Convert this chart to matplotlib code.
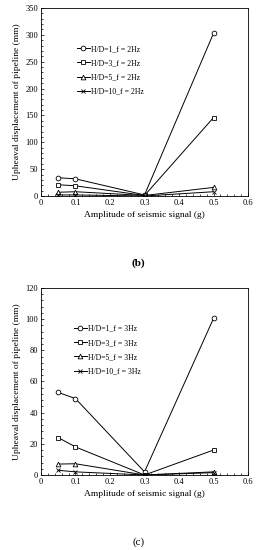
import matplotlib
matplotlib.use("Agg")
import matplotlib.pyplot as plt
from matplotlib.ticker import AutoMinorLocator, MultipleLocator

plt.rcParams['font.family'] = ['Liberation Serif', 'DejaVu Serif']

amplitude = [0.05, 0.1, 0.3, 0.5]

labels_2hz = ["H/D=1_f = 2Hz", "H/D=3_f = 2Hz", "H/D=5_f = 2Hz", "H/D=10_f = 2Hz"]
hd1_2hz = [34, 32, 2, 303]
hd3_2hz = [21, 19, 1, 146]
hd5_2hz = [7, 8, 1, 16]
hd10_2hz = [2, 2, 0, 8]

labels_3hz = ["H/D=1_f = 3Hz", "H/D=3_f = 3Hz", "H/D=5_f = 3Hz", "H/D=10_f = 3Hz"]
hd1_3hz = [53, 49, 2, 100.5]
hd3_3hz = [24, 18, 0, 16]
hd5_3hz = [7, 7.2, 0, 2]
hd10_3hz = [3, 2, 0, 1.5]

markers = ['o', 's', '^', 'x']

fig = plt.figure(figsize=(2.56, 5.5), dpi=100)

def draw(ax, series, labels, ymax, ystep, legend_anchor):
    for vals, lab, m in zip(series, labels, markers):
        ax.plot(amplitude, vals, color='black', lw=0.7, marker=m, ms=3.4,
                mfc='white' if m != 'x' else 'black', mec='black', mew=0.6, label=lab)
    ax.set_xlim(0, 0.6)
    ax.set_ylim(0, ymax)
    ax.xaxis.set_major_locator(MultipleLocator(0.1))
    ax.yaxis.set_major_locator(MultipleLocator(ystep))
    ax.xaxis.set_minor_locator(AutoMinorLocator(5))
    ax.yaxis.set_minor_locator(AutoMinorLocator(5))
    ax.tick_params(which='both', direction='in', labelsize=6, width=0.5, pad=2)
    ax.tick_params(which='major', length=2.5)
    ax.tick_params(which='minor', length=1.3)
    ax.set_xticks([0, 0.1, 0.2, 0.3, 0.4, 0.5, 0.6])
    ax.set_xticklabels(['0', '0.1', '0.2', '0.3', '0.4', '0.5', '0.6'])
    for s in ax.spines.values():
        s.set_linewidth(0.6)
    ax.set_xlabel("Amplitude of seismic signal (g)", fontsize=6.8, labelpad=3)
    ax.set_ylabel("Upheaval displacement of pipeline (mm)", fontsize=6.8, labelpad=3)
    ax.legend(loc='upper left', bbox_to_anchor=legend_anchor, frameon=False, fontsize=5.6,
              handlelength=1.6, handletextpad=0.2, labelspacing=0.8, borderaxespad=0)

ax1 = fig.add_axes([0.16, 0.6436, 0.809, 0.342])
draw(ax1, [hd1_2hz, hd3_2hz, hd5_2hz, hd10_2hz], labels_2hz, 350, 50, (0.16, 0.82))
fig.text(0.54, 1 - 263/550, "(b)", ha='center', va='center', fontsize=8, fontweight='bold')

ax2 = fig.add_axes([0.16, 0.1364, 0.809, 0.34])
draw(ax2, [hd1_3hz, hd3_3hz, hd5_3hz, hd10_3hz], labels_3hz, 120, 20, (0.145, 0.82))
fig.text(0.54, 1 - 542/550, "(c)", ha='center', va='center', fontsize=8)

fig.savefig("out.png", dpi=100)
